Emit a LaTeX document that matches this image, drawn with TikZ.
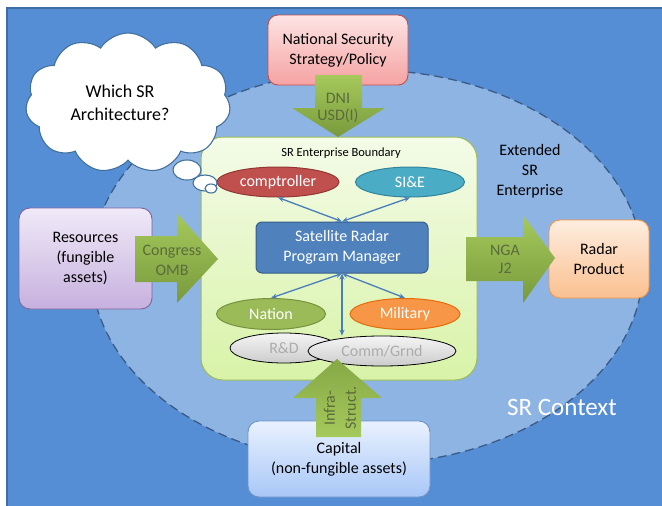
\documentclass[tikz,border=0pt]{standalone}
\usepackage{fontspec}
\setmainfont{Carlito}
\usetikzlibrary{shapes.geometric,shapes.symbols,arrows.meta}
\definecolor{bgblue}{HTML}{558ED5}
\definecolor{bgedge}{HTML}{3E6DA8}
\definecolor{ctxfill}{HTML}{8EB4E3}
\definecolor{ctxline}{HTML}{3B5B85}
\definecolor{entline}{HTML}{9BBB59}
\definecolor{enttop}{HTML}{F4FBE8}
\definecolor{entbot}{HTML}{D8F3A8}
\definecolor{arrtop}{HTML}{A6C95C}
\definecolor{arrbot}{HTML}{789A3C}
\definecolor{arrtext}{HTML}{5B6B3C}
\definecolor{linkblue}{HTML}{4A7EBB}
\definecolor{cloudline}{HTML}{41719C}
\definecolor{compfill}{HTML}{C0504D}
\definecolor{compline}{HTML}{943634}
\definecolor{siefill}{HTML}{4BACC6}
\definecolor{sieline}{HTML}{31849B}
\definecolor{pmfill}{HTML}{4F81BD}
\definecolor{pmline}{HTML}{385D8A}
\definecolor{natfill}{HTML}{9BBB59}
\definecolor{natline}{HTML}{76923C}
\definecolor{milfill}{HTML}{F79646}
\definecolor{milline}{HTML}{E36C09}
\definecolor{nssline}{HTML}{C0504D}
\definecolor{nsstop}{HTML}{FDE4E4}
\definecolor{nssbot}{HTML}{F6A2A2}
\definecolor{resline}{HTML}{8064A2}
\definecolor{restop}{HTML}{F0EAF8}
\definecolor{resbot}{HTML}{C7B0DE}
\definecolor{radline}{HTML}{F79646}
\definecolor{radtop}{HTML}{FEEDDF}
\definecolor{radbot}{HTML}{FAC090}
\definecolor{capline}{HTML}{6E93C9}
\definecolor{captop}{HTML}{E9F1FE}
\definecolor{capbot}{HTML}{A8C7F7}
\tikzset{
  body/.style={font=\fontsize{16}{20}\selectfont, align=center, inner sep=0pt},
  boxnode/.style={body, draw, line width=0.9pt, rounded corners=11pt},
  oval/.style={ellipse, body, draw, line width=1pt, text=white},
  grayoval/.style={ellipse, body, draw=black, line width=0.8pt, top color=gray!8, bottom color=gray!40, text=gray!65},
  arrlabel/.style={body, text=arrtext},
  link/.style={linkblue, line width=1.3pt, {Stealth[length=6pt,width=5pt]}-{Stealth[length=6pt,width=5pt]}},
  blockarrow/.style={top color=arrtop, bottom color=arrbot},
  bubble/.style={draw=cloudline, fill=white, line width=1.1pt}
}
\begin{document}
\begin{tikzpicture}[x=1pt,y=-1pt]
\useasboundingbox (0,0) rectangle (662,506);
% background
\fill[bgblue] (7,8) rectangle (662,506);
\draw[bgedge, line width=1.2pt] (7,506) -- (7,8) -- (662,8);
% SR context ellipse
\draw[ctxline, fill=ctxfill, dash pattern=on 9pt off 5pt, line width=1.3pt] (367,267) ellipse [x radius=276, y radius=197];
\node[body, text=white, font=\fontsize{25}{30}\selectfont] (ctx) at (562,407) {SR Context};
\node[body] (ext) at (530,171) {Extended\\SR\\Enterprise};

% enterprise boundary
\node[draw=entline, line width=1pt, rounded corners=22pt, top color=enttop, bottom color=entbot,
      minimum width=276pt, minimum height=243pt, inner sep=0pt] (ent) at (339,258.5) {};
\node[body, font=\fontsize{12.5}{15}\selectfont] (entlab) at (341,153) {SR Enterprise Boundary};

% ovals
\node[oval, fill=compfill, draw=compline, minimum width=122pt, minimum height=30pt] (comp) at (278,182) {comptroller};
\node[oval, fill=siefill, draw=sieline, minimum width=109pt, minimum height=30pt] (sie) at (410,182) {SI\&E};
\node[body, draw=pmline, fill=pmfill, text=white, line width=1pt, rounded corners=6pt,
      minimum width=172pt, minimum height=51pt] (pm) at (342,247.5) {Satellite Radar\\Program Manager};
\node[oval, fill=natfill, draw=natline, minimum width=109pt, minimum height=31pt] (nation) at (271,314) {Nation};
\node[oval, fill=milfill, draw=milline, minimum width=110pt, minimum height=31pt] (mil) at (405,314) {Military};
\node[grayoval, minimum width=108pt, minimum height=30pt] (rd) at (284,348) {R\&D};
\node[grayoval, minimum width=148pt, minimum height=30pt] (comm) at (382,351) {Comm/Grnd};

% links
\draw[link] (comp.south) -- (pm.north);
\draw[link] (sie.south) -- (pm.north);
\draw[link] (pm.south) -- (nation.north);
\draw[link] (pm.south) -- (mil.north);
\draw[link] (pm.south) -- (pm.south |- comm.north);

% outer boxes
\node[boxnode, draw=nssline, top color=nsstop, bottom color=nssbot,
      minimum width=140pt, minimum height=70pt, rounded corners=10pt] (nss) at (338,50) {National Security\\Strategy/Policy};
\node[boxnode, draw=resline, top color=restop, bottom color=resbot,
      minimum width=133pt, minimum height=101pt] (res) at (85.5,258.5) {Resources\\(fungible\\assets)};
\node[boxnode, draw=radline, top color=radtop, bottom color=radbot,
      minimum width=100pt, minimum height=78pt] (radar) at (599,259) {Radar\\Product};
\node[boxnode, draw=capline, top color=captop, bottom color=capbot,
      minimum width=182pt, minimum height=76pt] (cap) at (339,459) {Capital\\(non-fungible assets)};

% block arrows
\shade[blockarrow] (315,75) -- (362,75) -- (362,108) -- (385,108) -- (338,137) -- (292,108) -- (315,108) -- cycle;
\node[arrlabel, font=\fontsize{16}{17}\selectfont] (dni) at (338,108) {DNI\\USD(I)};
\shade[blockarrow] (135,236) -- (177,236) -- (177,213) -- (218,259) -- (177,303) -- (177,282) -- (135,282) -- cycle;
\node[arrlabel] (cong) at (172,260) {Congress\\OMB};
\shade[blockarrow] (466,237) -- (523,237) -- (523,215) -- (555,258) -- (523,303) -- (523,281) -- (466,281) -- cycle;
\node[arrlabel, font=\fontsize{16}{18}\selectfont] (nga) at (505,259) {NGA\\J2};
\shade[top color=arrbot!70!arrtop, bottom color=arrtop] (316,437) -- (361,437) -- (361,398) -- (382,398) -- (337,359) -- (293,398) -- (316,398) -- cycle;
\node[arrlabel, rotate=90, font=\fontsize{16}{21}\selectfont] (infra) at (340,408) {Infra-\\Struct.};

% thought cloud
\node[cloud, cloud puffs=11, cloud puff arc=115, aspect=1.45, draw=cloudline, fill=white, line width=1.1pt,
      minimum width=205pt, minimum height=140pt, inner sep=0pt] (cloud) at (128,103) {};
\node[body, font=\fontsize{18}{23}\selectfont] (q) at (120,103) {Which SR\\Architecture?};
\draw[bubble] (187,170) ellipse [x radius=14, y radius=10];
\draw[bubble] (205,183) ellipse [x radius=12, y radius=8];
\draw[bubble] (211,188.5) ellipse [x radius=6, y radius=4.5];
\end{tikzpicture}
\end{document}
